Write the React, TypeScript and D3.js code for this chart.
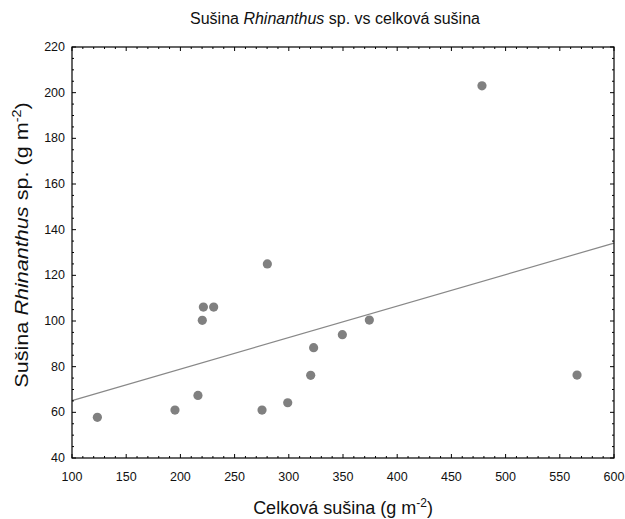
import React from "react";
import * as d3 from "d3";

const xValues = [123.4, 195, 216.2, 220.2, 221.2, 230.7, 280.2, 275.3, 299, 320.2, 322.9, 349.4, 374.3, 478.2, 565.9];
const yValues = [57.8, 61, 67.4, 100.3, 106.1, 106.1, 125, 61, 64.2, 76.2, 88.3, 94, 100.4, 203, 76.3];
const xTicks = [100, 150, 200, 250, 300, 350, 400, 450, 500, 550, 600];
const yTicks = [40, 60, 80, 100, 120, 140, 160, 180, 200, 220];

const W = 625;
const H = 519;
const L = 72, R = 614, T = 47, B = 458;
const FONT = "'Liberation Sans', Arial, sans-serif";

export default function App() {
  const x = d3.scaleLinear().domain([100, 600]).range([L, R]);
  const y = d3.scaleLinear().domain([40, 220]).range([B, T]);
  const pts = xValues.map((v, i) => [v, yValues[i]] as [number, number]);
  const mx = d3.mean(xValues)!;
  const my = d3.mean(yValues)!;
  const sxy = d3.sum(pts, (p) => (p[0] - mx) * (p[1] - my));
  const sxx = d3.sum(pts, (p) => (p[0] - mx) ** 2);
  const slope = sxy / sxx;
  const icpt = my - slope * mx;
  const line = d3.line<number>().x((v) => x(v)).y((v) => y(icpt + slope * v));
  const xMinor = d3.range(100, 601, 10).filter((v) => v % 50 !== 0);
  const yMinor = d3.range(40, 221, 5).filter((v) => v % 20 !== 0);
  const tc = "#000";
  return (
    <svg width={W} height={H} style={{ position: "absolute", left: 0, top: 0 }}>
      <rect width={W} height={H} fill="#fff" />
      <text x={335} y={24} textAnchor="middle" fontFamily={FONT} fontSize={16} fill="#111">
        Sušina <tspan fontStyle="italic">Rhinanthus</tspan> sp. vs celková sušina
      </text>
      <path d={line([100, 600]) ?? ""} fill="none" stroke="#888" strokeWidth={1.2} />
      {pts.map((p, i) => (
        <circle key={i} cx={x(p[0])} cy={y(p[1])} r={4.6} fill="#808080" />
      ))}
      <rect x={L} y={T} width={R - L} height={B - T} fill="none" stroke={tc} strokeWidth={1.2} />
      {xTicks.map((v) => (
        <g key={"xt" + v}>
          <line x1={x(v)} x2={x(v)} y1={B} y2={B - 4} stroke={tc} />
          <line x1={x(v)} x2={x(v)} y1={T} y2={T + 4} stroke={tc} />
          <text x={x(v)} y={481} textAnchor="middle" fontFamily={FONT} fontSize={12.5} fill="#111">{v}</text>
        </g>
      ))}
      {xMinor.map((v) => (
        <g key={"xm" + v}>
          <line x1={x(v)} x2={x(v)} y1={B} y2={B - 2} stroke={tc} />
          <line x1={x(v)} x2={x(v)} y1={T} y2={T + 2} stroke={tc} />
        </g>
      ))}
      {yTicks.map((v) => (
        <g key={"yt" + v}>
          <line x1={L} x2={L + 4} y1={y(v)} y2={y(v)} stroke={tc} />
          <line x1={R} x2={R - 4} y1={y(v)} y2={y(v)} stroke={tc} />
          <text x={65} y={y(v) + 4} textAnchor="end" fontFamily={FONT} fontSize={12.5} fill="#111">{v}</text>
        </g>
      ))}
      {yMinor.map((v) => (
        <g key={"ym" + v}>
          <line x1={L} x2={L + 2} y1={y(v)} y2={y(v)} stroke={tc} />
          <line x1={R} x2={R - 2} y1={y(v)} y2={y(v)} stroke={tc} />
        </g>
      ))}
      <text x={343} y={514} textAnchor="middle" fontFamily={FONT} fontSize={18} fill="#111">
        Celková sušina (g m<tspan dy={-7} fontSize={12}>-2</tspan><tspan dy={7}>)</tspan>
      </text>
      <text transform={`translate(28, 245) rotate(-90) scale(1.2, 1)`} textAnchor="middle" fontFamily={FONT} fontSize={18} fill="#111">
        Sušina <tspan fontStyle="italic">Rhinanthus</tspan> sp. (g m<tspan dy={-7} fontSize={12}>-2</tspan><tspan dy={7}>)</tspan>
      </text>
    </svg>
  );
}
